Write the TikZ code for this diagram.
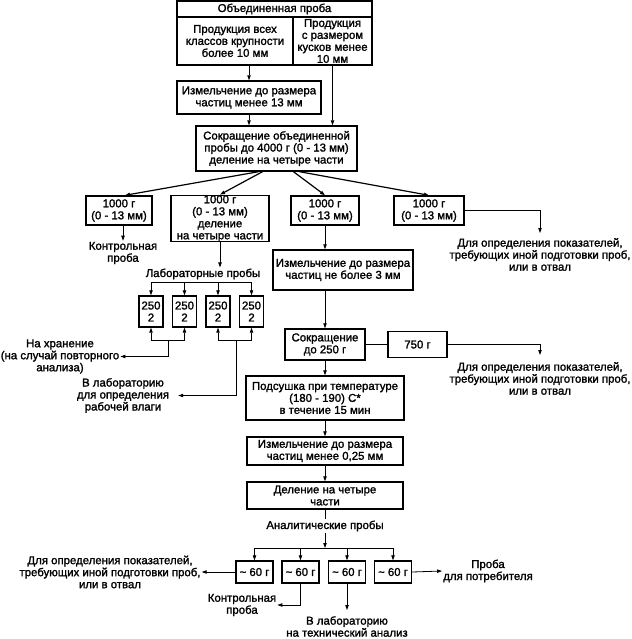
\documentclass[tikz,border=0pt]{standalone}
\usepackage{fontspec}
\setmainfont{Liberation Sans}[FakeBold=1.6]
\usetikzlibrary{arrows.meta}

\begin{document}
\begin{tikzpicture}[x=1pt,y=-1pt,
  box/.style={draw,line width=1.4pt,align=center,inner sep=0pt,font=\fontsize{11.4}{12}\selectfont},
  lbl/.style={align=center,inner sep=1pt,font=\fontsize{11.4}{12}\selectfont},
  con/.style={line width=0.8pt},
  arr/.style={con,-{Triangle[length=5pt,width=3.4pt]}}]
\useasboundingbox (0,0) rectangle (631,639);
% top: united sample
\node[box,minimum width=195pt,minimum height=16pt] (hdr) at (274.5,9) {Объединенная проба};
\node[box,minimum width=116pt,minimum height=48pt] (coarse) at (235,41) {Продукция всех\\классов крупности\\более 10 мм};
\node[box,minimum width=79pt,minimum height=48pt] (fine) at (332.5,41) {Продукция\\с размером\\кусков менее\\10 мм};
\node[box,minimum width=144pt,minimum height=33pt] (izm13) at (249,97.5) {Измельчение до размера\\частиц менее 13 мм};
\node[box,minimum width=161pt,minimum height=45pt] (sokr) at (276.5,148.5) {Сокращение объединенной\\пробы до 4000 г (0 - 13 мм)\\деление на четыре части};
% four parts of 1000 g
\node[box,minimum width=66pt,minimum height=29pt] (p1) at (119,210.5) {1000 г\\(0 - 13 мм)};
\node[box,minimum width=98pt,minimum height=45pt] (p2) at (220,218.5) {1000 г\\(0 - 13 мм)\\деление\\на четыре части};
\node[box,minimum width=68pt,minimum height=29pt] (p3) at (325,210.5) {1000 г\\(0 - 13 мм)};
\node[box,minimum width=70pt,minimum height=29pt] (p4) at (429,210.5) {1000 г\\(0 - 13 мм)};
\node[lbl] (kontr1) at (123,253) {Контрольная\\проба};
\node[lbl] (labpr) at (203,274) {Лабораторные пробы};
\foreach \i/\x in {1/151,2/184.5,3/218,4/251.5}
  \node[box,minimum width=24pt,minimum height=31pt] (lab\i) at (\x,311.5) {250\\2};
\node[lbl] (store) at (60,356.5) {На хранение\\(на случай повторного\\анализа)};
\node[lbl] (moist) at (123,395.5) {В лабораторию\\для определения\\рабочей влаги};
\node[lbl] (waste1) at (540,254.5) {Для определения показателей,\\требующих иной подготовки проб,\\или в отвал};
% main column
\node[box,minimum width=140pt,minimum height=40pt] (izm3) at (343,270) {Измельчение до размера\\частиц не более 3 мм};
\node[box,minimum width=80pt,minimum height=31pt] (s250) at (325,344.5) {Сокращение\\до 250 г};
\node[box,minimum width=59pt,minimum height=26pt] (b750) at (417.5,344.5) {750 г};
\node[lbl] (waste2) at (540,378.5) {Для определения показателей,\\требующих иной подготовки проб,\\или в отвал};
\node[box,minimum width=158pt,minimum height=44pt] (pods) at (325,398) {Подсушка при температуре\\(180 - 190) С*\\в течение 15 мин};
\node[box,minimum width=156pt,minimum height=28pt] (izm025) at (325,451) {Измельчение до размера\\частиц менее 0,25 мм};
\node[box,minimum width=156pt,minimum height=27pt] (del) at (325,495.5) {Деление на четыре\\части};
\node[lbl] (anal) at (325,526) {Аналитические пробы};
\foreach \i/\x in {1/254.5,2/300.5,3/347,4/393}
  \node[box,minimum width=37pt,minimum height=22pt] (g\i) at (\x,572) {\textasciitilde\ 60 г};
\node[lbl] (waste3) at (110,572) {Для определения показателей,\\требующих иной подготовки проб,\\или в отвал};
\node[lbl] (kontr2) at (242,605) {Контрольная\\проба};
\node[lbl] (techlab) at (347,626.5) {В лабораторию\\на технический анализ};
\node[lbl] (cons) at (488,571) {Проба\\для потребителя};

% connectors
\draw[arr] (coarse.south -| izm13.north) -- (izm13.north);
\draw[arr] (fine.south) -- (fine.south |- sokr.north);
\draw[arr] (izm13.south) -- (izm13.south |- sokr.north);
\draw[arr,line width=1.2pt] ([xshift=-18pt]sokr.south) -- ([xshift=6pt]p1.north);
\draw[arr,line width=1.2pt] ([xshift=-14pt]sokr.south) -- (p2.north);
\draw[arr,line width=1.2pt] ([xshift=17pt]sokr.south) -- (p3.north);
\draw[arr,line width=1.2pt] ([xshift=23pt]sokr.south) -- (p4.north);
\draw[arr] (p1.south -| kontr1.north) -- (kontr1.north);
\draw[arr] (p2.south) -- (p2.south |- labpr.north);
\draw[arr,shorten >=4pt] (p4.east) -| (waste1.north);
% laboratory samples
\coordinate (labtop) at (0,282);
\coordinate (labbot) at (0,340);
\draw[con] (lab1.north |- labtop) -- (lab4.north |- labtop);
\draw[con] (lab1.south |- labbot) -- (lab2.south |- labbot);
\draw[con] (lab3.south |- labbot) -- (lab4.south |- labbot);
\foreach \i in {1,...,4} {
  \draw[arr] (lab\i.north |- labtop) -- (lab\i.north);
  \draw[arr] (lab\i.south |- labbot) -- (lab\i.south);
}
\coordinate (keepfork) at (168,340);
\coordinate (moistfork) at (236,340);
\draw[arr] (keepfork) |- (store.east);
\draw[arr,shorten >=8pt] (moistfork) |- (moist.east);
% main column
\draw[arr] (p3.south) -- (p3.south |- izm3.north);
\draw[arr] (izm3.south -| s250.north) -- (s250.north);
\draw[con] (s250.east) -- (b750.west);
\draw[arr,shorten >=6pt] (b750.east) -| (waste2.north);
\draw[arr] (s250.south) -- (pods.north);
\draw[arr] (pods.south) -- (izm025.north);
\draw[arr] (izm025.south) -- (del.north);
\draw[con] (del.south) -- (anal.north);
% analytical samples
\coordinate (gtop) at (0,548);
\draw[arr] (anal.south) -- (anal.south |- gtop);
\draw[con] (g1.north |- gtop) -- (g4.north |- gtop);
\foreach \i in {1,...,4}
  \draw[arr] (g\i.north |- gtop) -- (g\i.north);
\draw[arr] (g1.west) -- (waste3.east);
\draw[arr] (g2.south) |- (kontr2.east);
\draw[arr,shorten >=5pt] (g3.south) -- (techlab.north);
\draw[arr] (g4.east) -- (cons.west);
\end{tikzpicture}
\end{document}
